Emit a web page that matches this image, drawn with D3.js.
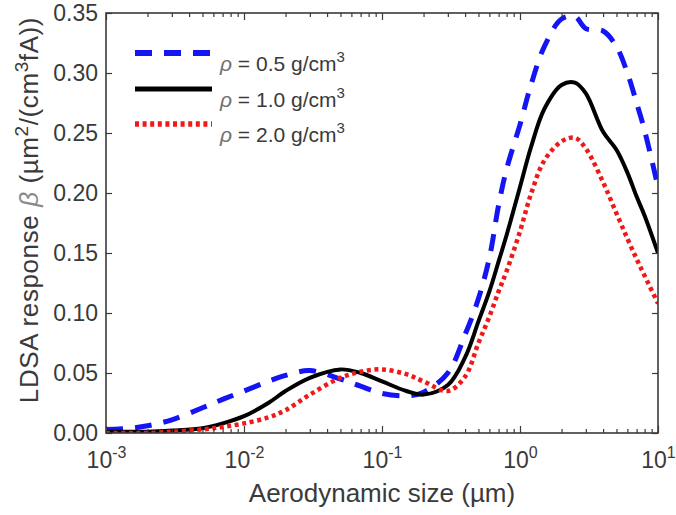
<!DOCTYPE html>
<html>
<head>
<meta charset="utf-8">
<script src="https://cdn.jsdelivr.net/npm/d3@7"></script>
<style>
  body { margin: 0; background: #fff; }
  text { font-family: "Liberation Sans", Arial, sans-serif; fill: #3a3a3a; }
</style>
</head>
<body>
<svg id="chart" width="676" height="515"></svg>
<script>
// Aerodynamic particle size (µm)
const sizes = [0.001, 0.0015, 0.002, 0.003, 0.005, 0.007, 0.01, 0.015, 0.02, 0.03, 0.05, 0.07,
               0.1, 0.15, 0.2, 0.3, 0.4, 0.5, 0.6, 0.7, 0.8, 1.0, 1.2, 1.5, 2.0, 2.5, 3, 4, 5, 6, 7, 8, 10];

// LDSA response beta (µm²/(cm³ fA)) for each particle density
const rho05 = [0.003, 0.004, 0.006, 0.011, 0.021, 0.028, 0.035, 0.043, 0.048, 0.052, 0.045, 0.039,
               0.033, 0.031, 0.034, 0.050, 0.082, 0.112, 0.146, 0.190, 0.220, 0.257, 0.290, 0.322,
               0.345, 0.347, 0.337, 0.335, 0.322, 0.300, 0.275, 0.252, 0.205];
const rho10 = [0.001, 0.001, 0.001, 0.002, 0.004, 0.008, 0.014, 0.025, 0.035, 0.046, 0.053, 0.050,
               0.043, 0.035, 0.032, 0.040, 0.063, 0.093, 0.118, 0.143, 0.165, 0.205, 0.238, 0.270,
               0.290, 0.292, 0.283, 0.251, 0.236, 0.217, 0.197, 0.181, 0.150];
const rho20 = [0.000, 0.000, 0.000, 0.001, 0.003, 0.005, 0.008, 0.013, 0.019, 0.032, 0.046, 0.051,
               0.053, 0.049, 0.043, 0.035, 0.047, 0.075, 0.097, 0.118, 0.135, 0.168, 0.199, 0.227,
               0.243, 0.246, 0.237, 0.209, 0.183, 0.162, 0.145, 0.131, 0.108];

const densityLabels = ["0.5", "1.0", "2.0"];
const yTickValues = [0, 0.05, 0.10, 0.15, 0.20, 0.25, 0.30, 0.35];
const xDecadeExponents = [-3, -2, -1, 0, 1];

const svg = d3.select("#chart");
const plotL = 106, plotR = 658, plotT = 13, plotB = 433;

const x = d3.scaleLog().domain([1e-3, 10]).range([plotL, plotR]);
const y = d3.scaleLinear().domain([0, 0.35]).range([plotB, plotT]);

const majorX = xDecadeExponents.map(e => Math.pow(10, e));
const minorX = [];
xDecadeExponents.slice(0, -1).forEach(e => {
  for (let k = 2; k <= 9; k++) minorX.push(k * Math.pow(10, e));
});

// clip region for the curves
svg.append("defs").append("clipPath").attr("id", "plot-clip")
  .append("rect").attr("x", plotL).attr("y", plotT)
  .attr("width", plotR - plotL).attr("height", plotB - plotT);

// series
const styles = [
  { values: rho05, color: "#1414f5", width: 5, dash: "17,12" },
  { values: rho10, color: "#000000", width: 4, dash: null },
  { values: rho20, color: "#f01818", width: 4.5, dash: "4,3.6" }
];

const line = d3.line()
  .x(d => x(d[0]))
  .y(d => y(d[1]))
  .curve(d3.curveCatmullRom.alpha(0.5));

const curves = svg.append("g").attr("clip-path", "url(#plot-clip)");
styles.forEach(s => {
  curves.append("path")
    .datum(sizes.map((v, i) => [v, s.values[i]]))
    .attr("d", line)
    .attr("fill", "none")
    .attr("stroke", s.color)
    .attr("stroke-width", s.width)
    .attr("stroke-dasharray", s.dash)
    .attr("stroke-linejoin", "round");
});

// axes
const axisColor = "#3a3a3a";
function styleAxis(g) {
  g.select(".domain").remove();
  g.selectAll(".tick line").attr("stroke", axisColor).attr("stroke-width", 1.2);
}

svg.append("g").attr("transform", `translate(0,${plotB})`)
  .call(d3.axisBottom(x).tickValues(minorX).tickSizeInner(-4).tickSizeOuter(0).tickFormat(() => ""))
  .call(styleAxis);
svg.append("g").attr("transform", `translate(0,${plotT})`)
  .call(d3.axisTop(x).tickValues(minorX).tickSizeInner(-4).tickSizeOuter(0).tickFormat(() => ""))
  .call(styleAxis);
svg.append("g").attr("transform", `translate(0,${plotT})`)
  .call(d3.axisTop(x).tickValues(majorX).tickSizeInner(-7).tickSizeOuter(0).tickFormat(() => ""))
  .call(styleAxis);

const xAxis = svg.append("g").attr("transform", `translate(0,${plotB})`)
  .call(d3.axisBottom(x).tickValues(majorX).tickSizeInner(-7).tickSizeOuter(0).tickFormat(() => ""))
  .call(styleAxis);
xAxis.selectAll(".tick").each(function(d, i) {
  const t = d3.select(this).append("text")
    .attr("y", 35).attr("text-anchor", "middle")
    .style("font-size", "23px").attr("fill", "#3a3a3a");
  t.append("tspan").text("10");
  t.append("tspan").attr("dy", -10).style("font-size", "16px").text(String(xDecadeExponents[i]));
});

svg.append("g").attr("transform", `translate(${plotL},0)`)
  .call(d3.axisLeft(y).tickValues(yTickValues).tickSizeInner(-6).tickSizeOuter(0)
    .tickPadding(8).tickFormat(d3.format(".2f")))
  .call(styleAxis)
  .selectAll("text").style("font-size", "23px").attr("fill", "#3a3a3a");

svg.append("g").attr("transform", `translate(${plotR},0)`)
  .call(d3.axisRight(y).tickValues(yTickValues).tickSizeInner(-6).tickSizeOuter(0).tickFormat(() => ""))
  .call(styleAxis);

// frame
svg.append("rect")
  .attr("x", plotL).attr("y", plotT)
  .attr("width", plotR - plotL).attr("height", plotB - plotT)
  .attr("fill", "none").attr("stroke", axisColor).attr("stroke-width", 1.6);

// axis titles
svg.append("text")
  .attr("x", (plotL + plotR) / 2).attr("y", 502)
  .attr("text-anchor", "middle").style("font-size", "26px")
  .text("Aerodynamic size (\u00b5m)");

const yTitle = svg.append("text")
  .attr("transform", "translate(38,210) rotate(-90)")
  .attr("text-anchor", "middle").style("font-size", "26px")
  .style("letter-spacing", "0.6px");
yTitle.append("tspan").text("LDSA response ");
yTitle.append("tspan").style("font-style", "italic").attr("fill", "#8a8a8a").text("\u03b2");
yTitle.append("tspan").text(" (\u00b5m");
yTitle.append("tspan").attr("dy", -10).style("font-size", "19px").text("2");
yTitle.append("tspan").attr("dy", 10).text("/(cm");
yTitle.append("tspan").attr("dy", -10).style("font-size", "19px").text("3");
yTitle.append("tspan").attr("dy", 10).text("fA))");

// legend
const legend = svg.append("g");
styles.forEach((s, i) => {
  const ly = [53, 89, 124][i];
  legend.append("line")
    .attr("x1", 135).attr("x2", 212).attr("y1", ly).attr("y2", ly)
    .attr("stroke", s.color).attr("stroke-width", s.width + 1)
    .attr("stroke-dasharray", s.dash);
  const t = legend.append("text")
    .attr("x", 220).attr("y", ly + 18).style("font-size", "21px");
  t.append("tspan").style("font-style", "italic").attr("fill", "#707070").text("\u03c1");
  t.append("tspan").text(` = ${densityLabels[i]} g/cm`);
  t.append("tspan").attr("dy", -9).style("font-size", "15px").text("3");
});
</script>
</body>
</html>
